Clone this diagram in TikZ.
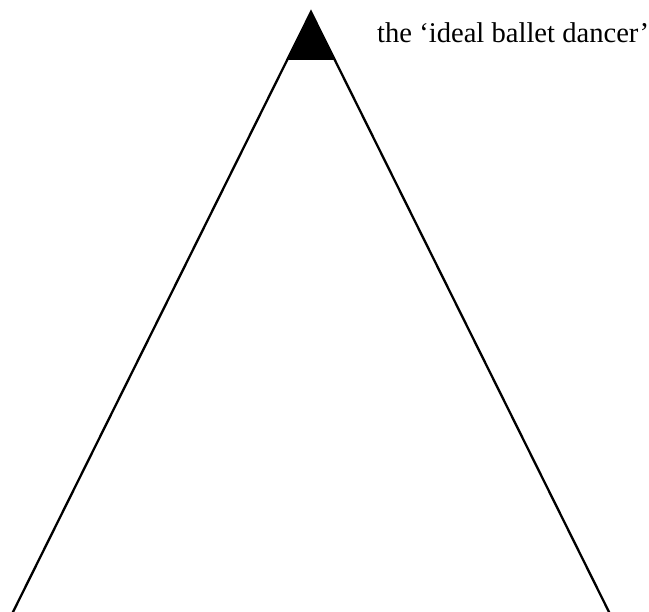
\documentclass[tikz,border=0pt]{standalone}
\usepackage{fontspec}
\setmainfont{Liberation Serif}
\begin{document}
\begin{tikzpicture}[x=1pt,y=-1pt,
  side/.style={line width=2.3pt,black},
  label/.style={font=\fontsize{28.6}{32}\selectfont,inner sep=0pt,anchor=base west}]
\useasboundingbox (0,0) rectangle (649,612);
\coordinate (apex) at (311,12);
\coordinate (bl) at (12,614);
\coordinate (br) at (610,614);
\coordinate (tl) at (287,60);
\coordinate (tr) at (335,60);
\fill[black] (apex) -- (tl) -- (tr) -- cycle;
\draw[side] (bl) -- (apex) -- (br);
\node[label] (txt) at (377,43) {the ‘ideal ballet dancer’};
\end{tikzpicture}
\end{document}
